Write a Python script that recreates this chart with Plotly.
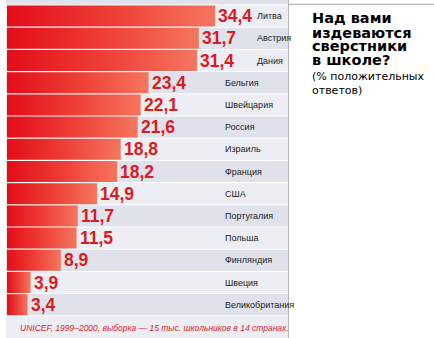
import plotly.graph_objects as go

countries = ["Литва", "Австрия", "Дания", "Бельгия", "Швейцария", "Россия", "Израиль",
             "Франция", "США", "Португалия", "Польша", "Финляндия", "Швеция", "Великобритания"]
values = [34.4, 31.7, 31.4, 23.4, 22.1, 21.6, 18.8, 18.2, 14.9, 11.7, 11.5, 8.9, 3.9, 3.4]
title_bold = ["Над вами", "издеваются", "сверстники", "в школе?"]
title_sub = ["(% положительных", "ответов)"]
source = "UNICEF, 1999–2000, выборка — 15 тыс. школьников в 14 странах."

W, H = 434, 338
PX = 6.05          # pixels per unit
X0 = 7             # pixel of value 0
ROW = 22.2         # row pitch in px
Y0 = 16.1          # center of first row in px

def xd(px):
    return (px - X0) / PX

def yp(py):
    return 1 - py / H

SANS = "Liberation Sans, Arial, sans-serif"
RED = "#dc1a22"

fig = go.Figure()
shapes = []
annotations = []

n = len(countries)
gap = 0.5 / ROW
# row backgrounds (including partial row above)
for i in range(-1, n):
    col = "#dfe2ea" if i % 2 == 1 or i == -1 else "#eceef3"
    shapes.append(dict(type="rect", xref="x", yref="y", x0=xd(6), x1=xd(288),
                       y0=i - 0.5 + gap, y1=i + 0.5 - gap,
                       fillcolor=col, line=dict(width=0), layer="below"))
# footer band
shapes.append(dict(type="rect", xref="x", yref="y", x0=xd(6), x1=xd(288),
                   y0=n - 0.5 + gap, y1=n + 2, fillcolor="#eceef3",
                   line=dict(width=0), layer="below"))

h = 0.473
for i, (c, v) in enumerate(zip(countries, values)):
    fig.add_trace(go.Scatter(
        x=[0, v, v, 0, 0], y=[i - h, i - h, i + h, i + h, i - h],
        mode="lines", fill="toself", line=dict(width=0),
        fillgradient=dict(type="horizontal",
                          colorscale=[[0, "#e30d18"], [0.5, "#ee3d36"], [1, "#f5765f"]]),
        hoverinfo="skip", showlegend=False))
    label = f"{v:.1f}".replace(".", ",")
    annotations.append(dict(x=v, y=i, xref="x", yref="y", text=f"<b>{label}</b>",
                            showarrow=False, xanchor="left", yanchor="middle", xshift=1,
                            font=dict(family=SANS, size=17.5, color=RED)))
    end_px = X0 + PX * v + 35
    name_px = 255 if end_px > 218 else 223
    annotations.append(dict(x=xd(name_px), y=i, xref="x", yref="y", text=c,
                            showarrow=False, xanchor="left", yanchor="middle",
                            font=dict(family=SANS, size=9, color="#1c1c1c")))

# footer text
annotations.append(dict(x=xd(154), y=n + 0.05, xref="x", yref="y", text=f"<i>{source}</i>",
                        showarrow=False, xanchor="center", yanchor="middle",
                        font=dict(family=SANS, size=8.5, color="#e0202a")))

# title block
ys_bold = [18, 32.5, 46.5, 60]
for t, yy in zip(title_bold, ys_bold):
    annotations.append(dict(x=310 / W, y=yp(yy), xref="paper", yref="paper", text=f"<b>{t}</b>",
                            showarrow=False, xanchor="left", yanchor="middle",
                            font=dict(family="DejaVu Sans, sans-serif", size=14.5, color="#000")))
ys_sub = [77, 91]
for t, yy in zip(title_sub, ys_sub):
    annotations.append(dict(x=310 / W, y=yp(yy), xref="paper", yref="paper", text=t,
                            showarrow=False, xanchor="left", yanchor="middle",
                            font=dict(family="DejaVu Sans, sans-serif", size=11, color="#000")))

# frame lines
shapes.append(dict(type="line", xref="paper", yref="paper", x0=288.5 / W, x1=1,
                   y0=yp(4.3), y1=yp(4.3), line=dict(color="#a8a8a8", width=1)))
shapes.append(dict(type="line", xref="paper", yref="paper", x0=288.5 / W, x1=288.5 / W,
                   y0=0, y1=1, line=dict(color="#b4b4b4", width=1)))

fig.update_layout(
    width=W, height=H, margin=dict(l=0, r=0, t=0, b=0),
    paper_bgcolor="white", plot_bgcolor="white",
    xaxis=dict(range=[xd(0), xd(W)], visible=False, fixedrange=True),
    yaxis=dict(range=[(H - Y0) / ROW, -Y0 / ROW], visible=False, fixedrange=True),
    shapes=shapes, annotations=annotations, showlegend=False,
)

fig.write_html("out.html")
